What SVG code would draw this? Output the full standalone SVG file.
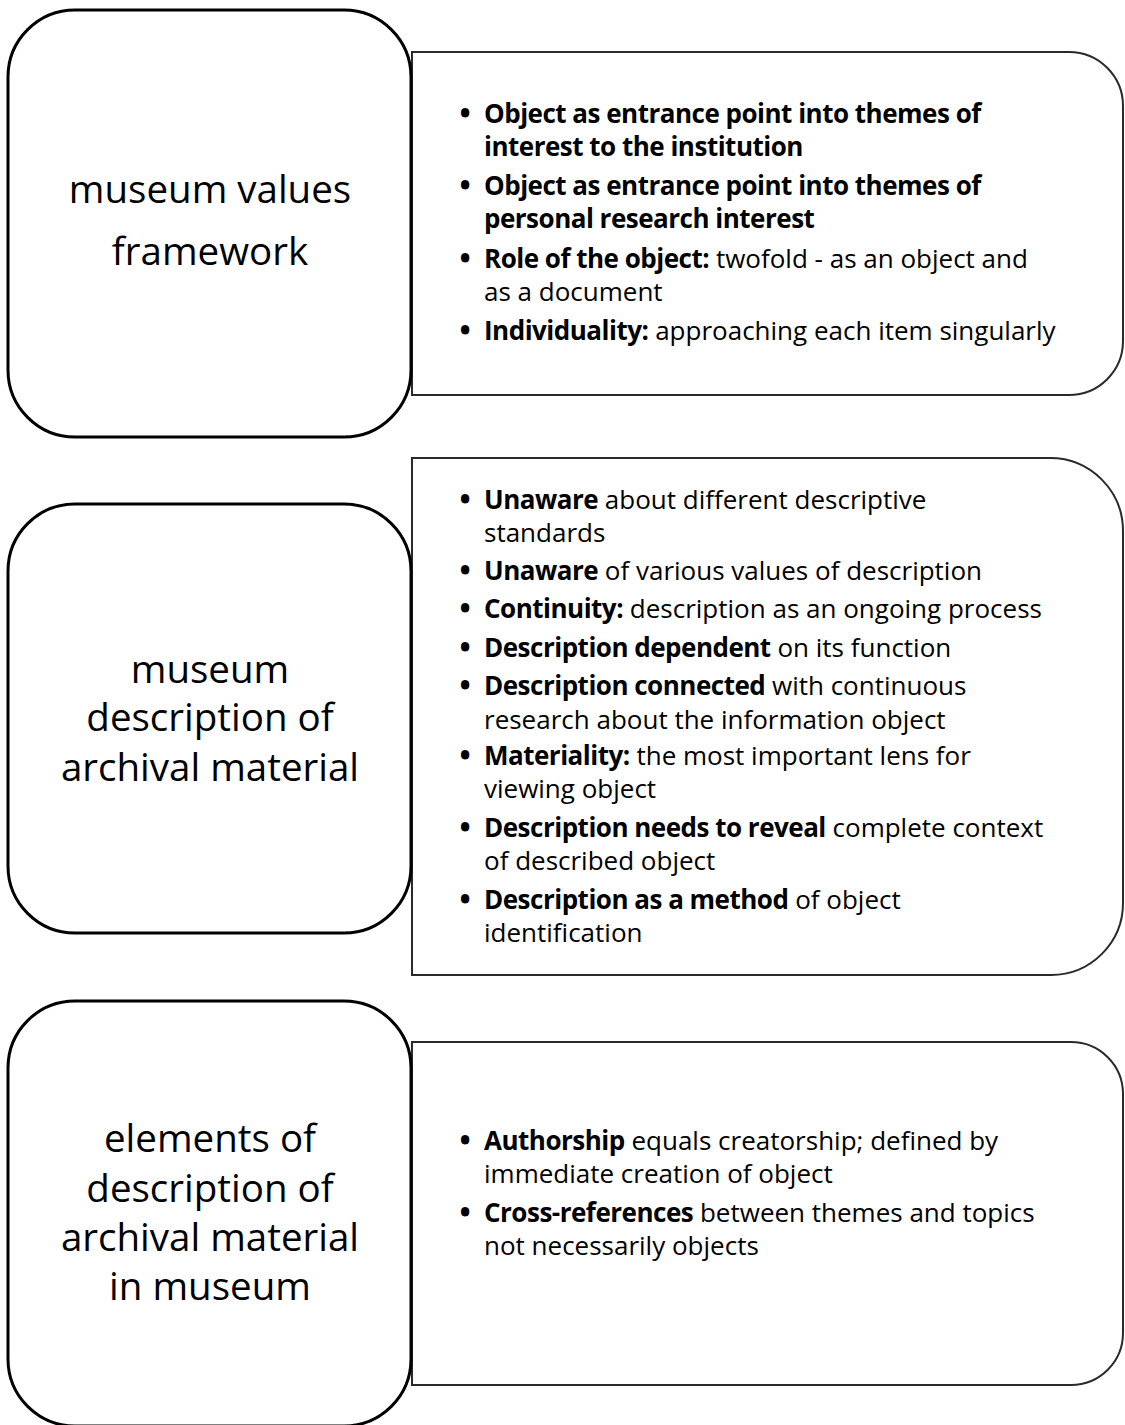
<svg xmlns="http://www.w3.org/2000/svg" width="1125" height="1425" viewBox="0 0 1125 1425">
<style>
.box{fill:#fff;stroke:#000;stroke-width:3}
.panel{fill:#fff;stroke:#2a2a2a;stroke-width:2}
.lbl{font-family:"Open Sans","Noto Sans",sans-serif;font-size:38.5px;fill:#000;text-anchor:middle}
.t{font-family:"Open Sans","Noto Sans",sans-serif;font-size:26px;fill:#000}
.b{font-weight:bold;letter-spacing:-0.5px}
.bul{font-weight:800}
</style>
<rect width="1125" height="1425" fill="#fff"/>

<g id="panel1">
<path class="panel" d="M412,52 H1069 A54,54 0 0 1 1123,106 V341 A54,54 0 0 1 1069,395 H412 Z"/>
<text class="t" x="460" y="123"><tspan class="bul">•</tspan><tspan class="b" x="484">Object as entrance point into themes of</tspan></text>
<text class="t b" x="484" y="156">interest to the institution</text>
<text class="t" x="460" y="195"><tspan class="bul">•</tspan><tspan class="b" x="484">Object as entrance point into themes of</tspan></text>
<text class="t b" x="484" y="228">personal research interest</text>
<text class="t" x="460" y="268"><tspan class="bul">•</tspan><tspan class="b" x="484">Role of the object:</tspan> twofold - as an object and</text>
<text class="t" x="484" y="301">as a document</text>
<text class="t" x="460" y="340"><tspan class="bul">•</tspan><tspan class="b" x="484">Individuality:</tspan> approaching each item singularly</text>
</g>

<g id="box1">
<rect class="box" x="8" y="10" width="403" height="427" rx="67" ry="67"/>
<text class="lbl" x="210" y="203">museum values</text>
<text class="lbl" x="210" y="265">framework</text>
</g>

<g id="panel2">
<path class="panel" d="M412,458 H1050 A73,73 0 0 1 1123,531 V903 A72,72 0 0 1 1051,975 H412 Z"/>
<text class="t" x="460" y="509"><tspan class="bul">•</tspan><tspan class="b" x="484">Unaware</tspan> about different descriptive</text>
<text class="t" x="484" y="542">standards</text>
<text class="t" x="460" y="580"><tspan class="bul">•</tspan><tspan class="b" x="484">Unaware</tspan> of various values of description</text>
<text class="t" x="460" y="618"><tspan class="bul">•</tspan><tspan class="b" x="484">Continuity:</tspan> description as an ongoing process</text>
<text class="t" x="460" y="657"><tspan class="bul">•</tspan><tspan class="b" x="484">Description dependent</tspan> on its function</text>
<text class="t" x="460" y="695"><tspan class="bul">•</tspan><tspan class="b" x="484">Description connected</tspan> with continuous</text>
<text class="t" x="484" y="729">research about the information object</text>
<text class="t" x="460" y="765"><tspan class="bul">•</tspan><tspan class="b" x="484">Materiality:</tspan> the most important lens for</text>
<text class="t" x="484" y="798">viewing object</text>
<text class="t" x="460" y="837"><tspan class="bul">•</tspan><tspan class="b" x="484">Description needs to reveal</tspan> complete context</text>
<text class="t" x="484" y="870">of described object</text>
<text class="t" x="460" y="909"><tspan class="bul">•</tspan><tspan class="b" x="484">Description as a method</tspan> of object</text>
<text class="t" x="484" y="942">identification</text>
</g>

<g id="box2">
<rect class="box" x="8" y="504" width="403" height="429" rx="67" ry="67"/>
<text class="lbl" x="210" y="683">museum</text>
<text class="lbl" x="210" y="731">description of</text>
<text class="lbl" x="210" y="781">archival material</text>
</g>

<g id="panel3">
<path class="panel" d="M412,1042 H1071 A52,52 0 0 1 1123,1094 V1333 A52,52 0 0 1 1071,1385 H412 Z"/>
<text class="t" x="460" y="1150"><tspan class="bul">•</tspan><tspan class="b" x="484">Authorship</tspan> equals creatorship; defined by</text>
<text class="t" x="484" y="1183">immediate creation of object</text>
<text class="t" x="460" y="1222"><tspan class="bul">•</tspan><tspan class="b" x="484">Cross-references</tspan> between themes and topics</text>
<text class="t" x="484" y="1255">not necessarily objects</text>
</g>

<g id="box3">
<rect class="box" x="8" y="1001" width="403" height="425" rx="67" ry="67"/>
<text class="lbl" x="210" y="1152">elements of</text>
<text class="lbl" x="210" y="1202">description of</text>
<text class="lbl" x="210" y="1251">archival material</text>
<text class="lbl" x="210" y="1300">in museum</text>
</g>

<g id="connectors"></g>
</svg>
